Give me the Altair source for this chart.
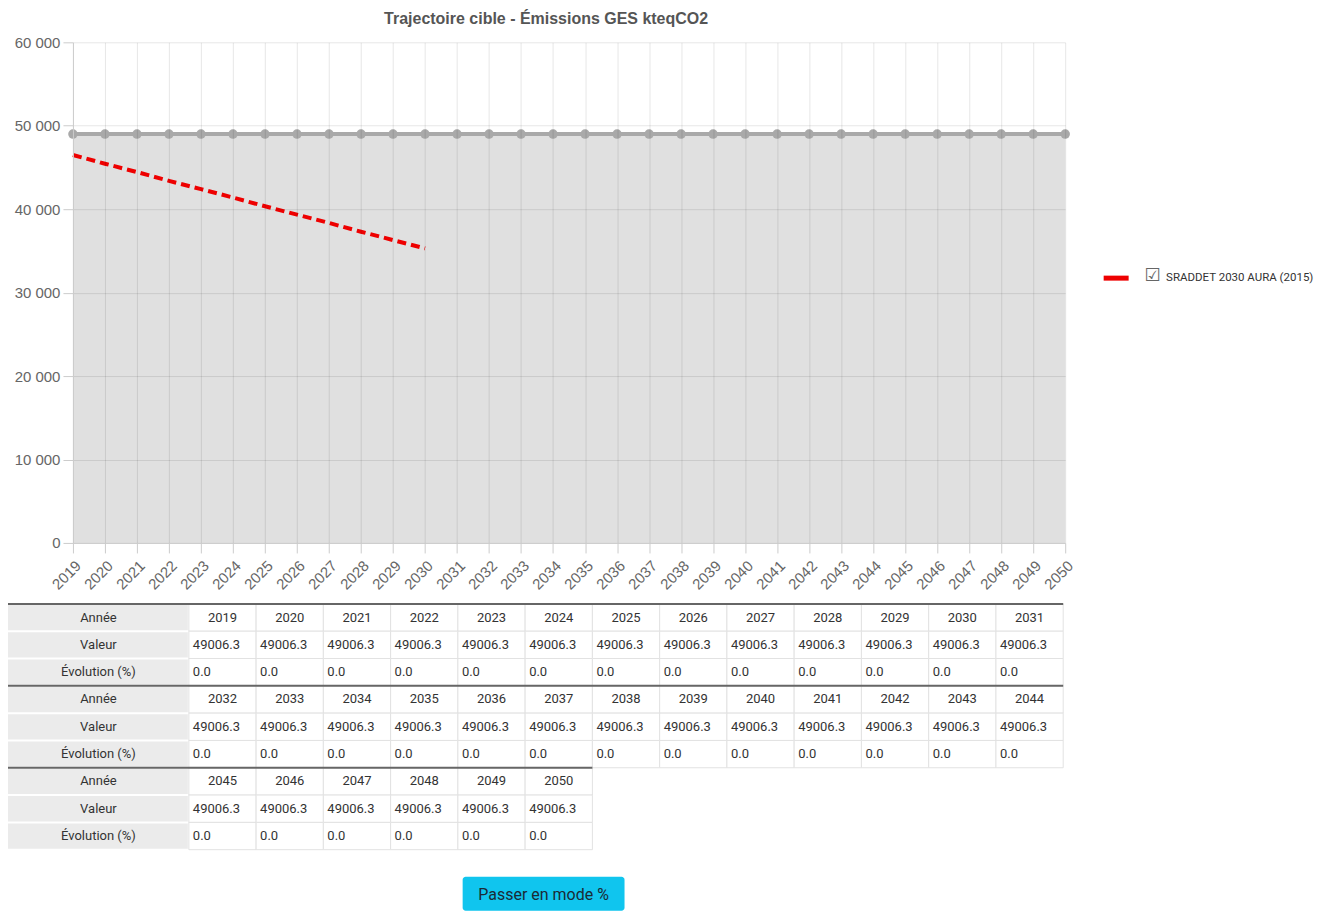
import altair as alt
import pandas as pd

# ---------------- data ----------------
years = [2019, 2020, 2021, 2022, 2023, 2024, 2025, 2026, 2027, 2028, 2029, 2030,
         2031, 2032, 2033, 2034, 2035, 2036, 2037, 2038, 2039, 2040, 2041, 2042,
         2043, 2044, 2045, 2046, 2047, 2048, 2049, 2050]
valeur = [49006.3, 49006.3, 49006.3, 49006.3, 49006.3, 49006.3, 49006.3, 49006.3,
          49006.3, 49006.3, 49006.3, 49006.3, 49006.3, 49006.3, 49006.3, 49006.3,
          49006.3, 49006.3, 49006.3, 49006.3, 49006.3, 49006.3, 49006.3, 49006.3,
          49006.3, 49006.3, 49006.3, 49006.3, 49006.3, 49006.3, 49006.3, 49006.3]
evolution = ["0.0", "0.0", "0.0", "0.0", "0.0", "0.0", "0.0", "0.0",
             "0.0", "0.0", "0.0", "0.0", "0.0", "0.0", "0.0", "0.0",
             "0.0", "0.0", "0.0", "0.0", "0.0", "0.0", "0.0", "0.0",
             "0.0", "0.0", "0.0", "0.0", "0.0", "0.0", "0.0", "0.0"]
target_years = [2019, 2020, 2021, 2022, 2023, 2024, 2025, 2026, 2027, 2028, 2029, 2030]
target_values = [46500, 45450, 44450, 43400, 42400, 41400, 40350, 39350, 38350, 37300, 36300, 35300]
target_name = "SRADDET 2030 AURA (2015)"
row_labels = ["Année", "Valeur", "Évolution (%)"]
title_text = "Trajectoire cible - Émissions GES kteqCO2"
button_text = "Passer en mode %"
checkbox_glyph = "☑"

# ---------------- chart ----------------
main_df = pd.DataFrame({"year": [str(y) for y in years], "value": valeur})
target_df = pd.DataFrame({"year": [str(y) for y in target_years],
                          "value": target_values,
                          "serie": [target_name] * len(target_years)})

x_enc = alt.X("year:O", sort=None,
              scale=alt.Scale(type="point", padding=0),
              axis=alt.Axis(title=None, labelAngle=-45, labelAlign="right",
                            labelBaseline="top", labelFontSize=15,
                            labelFont="Liberation Sans", labelColor="#666",
                            labelPadding=5, tickSize=10, tickColor="#ccc",
                            domainColor="#ccc", grid=True, gridColor="#000",
                            gridOpacity=0.1, zindex=1,
                            minExtent=46, maxExtent=46))
y_enc = alt.Y("value:Q",
              scale=alt.Scale(domain=[0, 60000], nice=False),
              axis=alt.Axis(title=None, values=[0, 10000, 20000, 30000, 40000, 50000, 60000],
                            labelExpr="replace(format(datum.value, ','), ',', ' ')",
                            labelFontSize=15, labelFont="Liberation Sans",
                            labelColor="#666", labelPadding=3, tickSize=10,
                            tickColor="#ccc", domainColor="#ccc",
                            gridColor="#000", gridOpacity=0.1, zindex=1,
                            minExtent=65, maxExtent=65))

area = alt.Chart(main_df).mark_area(color="#e0e0e0", opacity=1).encode(x=x_enc, y=y_enc)
gline = alt.Chart(main_df).mark_line(color="#a9a9a9", strokeWidth=4).encode(x="year:O", y="value:Q")
gpts = alt.Chart(main_df).mark_point(filled=True, size=90, color="#a9a9a9", opacity=1).encode(
    x="year:O", y="value:Q")
red = alt.Chart(target_df).mark_line(strokeDash=[9, 5], strokeWidth=4).encode(
    x="year:O", y="value:Q",
    color=alt.Color("serie:N",
                    scale=alt.Scale(domain=[target_name], range=["#ee0000"]),
                    legend=alt.Legend(title=None, orient="none", legendX=1029, legendY=221,
                                      symbolType="stroke", symbolStrokeWidth=5,
                                      symbolSize=625, symbolDash=[25, 0],
                                      labelOffset=35, labelFont="Roboto",
                                      labelFontSize=11.5, labelColor="#333",
                                      labelLimit=400, padding=0)))
check_df = pd.DataFrame({"glyph": [checkbox_glyph]})
checkbox = alt.Chart(check_df).mark_text(font="DejaVu Sans", fontSize=18, color="#666",
                                         align="left", baseline="middle").encode(
    x=alt.value(1072), y=alt.value(234), text="glyph:N")

top = alt.layer(area, gline, gpts, red, checkbox).properties(
    width=993, height=501,
    title=alt.TitleParams(title_text, fontSize=16, fontWeight="bold", color="#555",
                          font="Liberation Sans", anchor="middle", dx=-23, offset=8))

# ---------------- table ----------------
LW = 181 / 67.31
cells = []
texts = []
rules = []
for b in range(3):
    blk = list(range(13 * b, min(13 * b + 13, len(years))))
    rules.append({"x0": -LW, "x1": len(blk), "y": 3 * b})
    for r in range(3):
        yi = 3 * b + r
        cells.append({"x0": -LW, "x1": 0, "y0": yi, "y1": yi + 1, "kind": "head"})
        texts.append({"x": -LW / 2, "y": yi + 0.5, "t": row_labels[r], "kind": "center"})
        for j, k in enumerate(blk):
            cells.append({"x0": j, "x1": j + 1, "y0": yi, "y1": yi + 1, "kind": "cell"})
            if r == 0:
                texts.append({"x": j + 0.5, "y": yi + 0.5, "t": str(years[k]), "kind": "center"})
            elif r == 1:
                texts.append({"x": j, "y": yi + 0.5, "t": f"{valeur[k]:.1f}", "kind": "left"})
            else:
                texts.append({"x": j, "y": yi + 0.5, "t": evolution[k], "kind": "left"})

cells_df = pd.DataFrame(cells)
texts_df = pd.DataFrame(texts)
rules_df = pd.DataFrame(rules)

# the table starts at the page margin, 65px left of the plot's origin
tx = alt.Scale(domain=[-LW, 13], range=[-65, 991], nice=False, zero=False)
ty = alt.Scale(domain=[0, 9], range=[0, 246], nice=False, zero=False)

head_cells = alt.Chart(cells_df).transform_filter("datum.kind == 'head'").mark_rect(
    fill="#ebebeb", yOffset=1, y2Offset=-1, x2Offset=-1).encode(
    x=alt.X("x0:Q", scale=tx, axis=None), x2="x1:Q",
    y=alt.Y("y0:Q", scale=ty, axis=None), y2="y1:Q")
body_cells = alt.Chart(cells_df).transform_filter("datum.kind == 'cell'").mark_rect(
    fill="#ffffff", stroke="#e2e2e2", strokeWidth=1).encode(
    x=alt.X("x0:Q", scale=tx, axis=None), x2="x1:Q",
    y=alt.Y("y0:Q", scale=ty, axis=None), y2="y1:Q")
block_rules = alt.Chart(rules_df).mark_rect(fill="#666", yOffset=-1, y2Offset=1).encode(
    x=alt.X("x0:Q", scale=tx, axis=None), x2="x1:Q",
    y=alt.Y("y:Q", scale=ty, axis=None), y2="y:Q")
center_txt = alt.Chart(texts_df).transform_filter("datum.kind == 'center'").mark_text(
    font="Roboto", fontSize=13, color="#333", align="center", baseline="middle").encode(
    x=alt.X("x:Q", scale=tx, axis=None), y=alt.Y("y:Q", scale=ty, axis=None), text="t:N")
left_txt = alt.Chart(texts_df).transform_filter("datum.kind == 'left'").mark_text(
    font="Roboto", fontSize=13, color="#333", align="left", baseline="middle", dx=4).encode(
    x=alt.X("x:Q", scale=tx, axis=None), y=alt.Y("y:Q", scale=ty, axis=None), text="t:N")

btn_df = pd.DataFrame({"label": [button_text]})
button = alt.Chart(btn_df).mark_rect(fill="#10c5ee", cornerRadius=3).encode(
    x=alt.value(390), x2=alt.value(552), y=alt.value(273), y2=alt.value(307))
button_txt = alt.Chart(btn_df).mark_text(font="Roboto", fontSize=16, color="#1b2a35",
                                         align="center", baseline="middle").encode(
    x=alt.value(471), y=alt.value(291), text="label:N")

table = alt.layer(head_cells, body_cells, block_rules, center_txt, left_txt,
                  button, button_txt).properties(width=1056, height=300)

chart = alt.vconcat(top, table, spacing=10).properties(
    padding={"left": 0, "top": 3, "right": 0, "bottom": 0}
).configure_view(stroke=None)

chart.save("out.html", embed_options={"renderer": "svg", "actions": False})
